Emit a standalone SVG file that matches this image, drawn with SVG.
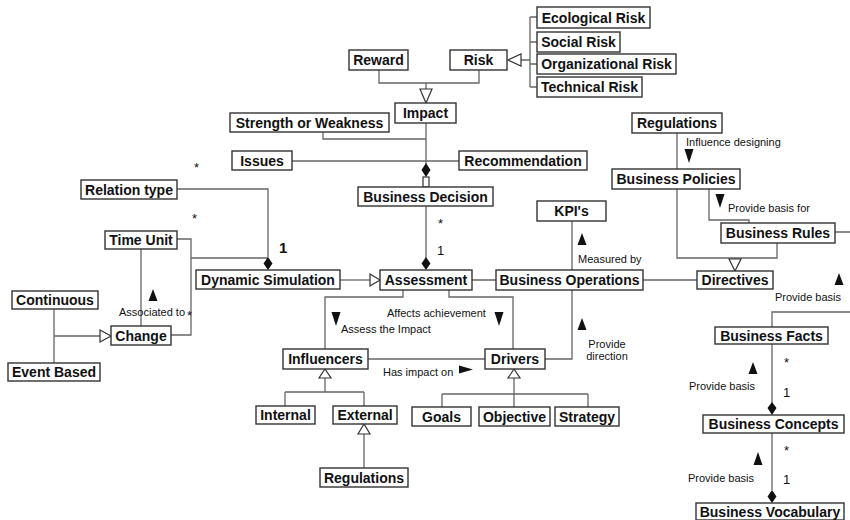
<svg xmlns="http://www.w3.org/2000/svg" width="850" height="520" viewBox="0 0 850 520">
<style>
.box{fill:#fff;stroke:#333;stroke-width:1.4}
.lbl{font-family:"Liberation Sans",Arial,sans-serif;font-weight:bold;font-size:14px;fill:#111;text-anchor:middle}
.sm{font-family:"Liberation Sans",Arial,sans-serif;font-size:11px;fill:#111}
.mult{font-family:"Liberation Sans",Arial,sans-serif;font-size:13px;fill:#111}
.ln{fill:none;stroke:#666;stroke-width:1.3}
.hol{fill:#fff;stroke:#333;stroke-width:1.2}
.fill{fill:#111;stroke:none}
</style>
<rect width="850" height="520" fill="#fff"/>
<g id="connectors">
<path class="ln" d="M521,60H530M530,17V87M530,17H537M530,42H537M530,64H537M530,87H537"/>
<polygon class="hol" points="508,60 521,54 521,66"/>
<path class="ln" d="M379,70V83H479V70M426,83V89"/>
<polygon class="hol" points="426,103 420,89 432,89"/>
<path class="ln" d="M426,123V164M323,132V139H426M292,161H459"/>
<polygon class="fill" points="426,163 430.5,170 426,177 421.5,170"/>
<rect class="hol" x="423" y="177" width="6" height="10"/>
<path class="ln" d="M177,189H268V257M177,239H191V335H171M191,258H268M141,249V326"/>
<polygon class="fill" points="268,257 272.5,263.5 268,270 263.5,263.5"/>
<path class="ln" d="M54,308V363M54,336H100"/>
<polygon class="hol" points="111,336 100,330 100,342"/>
<path class="ln" d="M340,280H370"/>
<polygon class="hol" points="380,280 370,274 370,286"/>
<path class="ln" d="M426,206V258"/>
<polygon class="fill" points="426,257 430.5,263.5 426,270 421.5,263.5"/>
<path class="ln" d="M472,280H496M572,221V270M572,290V359H545M643,280H697"/>
<path class="ln" d="M403,290V297H325V349M449,290V297H513V349M368,359H485"/>
<path class="ln" d="M325,378V392M285,392H364M285,392V406M364,392V406M364,434V468"/>
<polygon class="hol" points="325,369 319,378 331,378"/>
<polygon class="hol" points="364,424 358,434 370,434"/>
<path class="ln" d="M514,378V394M442,394H588M442,394V407M514,394V407M588,394V407"/>
<polygon class="hol" points="514,369 508,378 520,378"/>
<path class="ln" d="M677,133V169M677,189V258H777V243M709,189V220H749V223M835,232H850M735,258V260"/>
<polygon class="hol" points="735,271 729,259 741,259"/>
<path class="ln" d="M772,327V312H850M772,344V403M772,433V490"/>
<polygon class="fill" points="772,402 776.5,408 772,415 767.5,408"/>
<polygon class="fill" points="772,490 776.5,496.5 772,503 767.5,496.5"/>
<g id="direction-marks">
<polygon class="fill" points="148.5,301 153,289 157.5,301"/>
<polygon class="fill" points="577.5,245 582,233 586.5,245"/>
<polygon class="fill" points="577.5,330 582,318 586.5,330"/>
<polygon class="fill" points="331.5,312 340.5,312 336,326"/>
<polygon class="fill" points="494.5,312 503.5,312 499,326"/>
<polygon class="fill" points="459,365.5 473,369.5 459,373.5"/>
<polygon class="fill" points="684.5,149 693.5,149 689,163"/>
<polygon class="fill" points="715.5,194 724.5,194 720,208"/>
<polygon class="fill" points="834.5,285 839,273 843.5,285"/>
<polygon class="fill" points="748.5,374 753,362 757.5,374"/>
<polygon class="fill" points="753.5,465 758,452 762.5,465"/>
</g>
<g id="connector-labels">
<text class="sm" x="119" y="316">Associated to</text>
<text class="mult" x="187" y="320">*</text>
<text class="sm" x="578" y="263">Measured by</text>
<text class="sm" x="607" y="348" text-anchor="middle">Provide</text>
<text class="sm" x="607" y="360" text-anchor="middle">direction</text>
<text class="sm" x="341" y="333">Assess the Impact</text>
<text class="sm" x="387" y="317">Affects achievement</text>
<text class="sm" x="383" y="376">Has impact on</text>
<text class="sm" x="686" y="146">Influence designing</text>
<text class="sm" x="728" y="212">Provide basis for</text>
<text class="sm" x="775" y="301">Provide basis</text>
<text class="sm" x="689" y="390">Provide basis</text>
<text class="sm" x="688" y="482">Provide basis</text>
<text class="mult" x="194" y="172">*</text>
<text class="mult" x="192" y="223">*</text>
<text class="mult" x="438" y="228">*</text>
<text class="mult" x="437" y="255">1</text>
<text class="mult" x="279" y="253" style="font-size:15px;font-weight:bold">1</text>
<text class="mult" x="784" y="367">*</text>
<text class="mult" x="783" y="397">1</text>
<text class="mult" x="784" y="455">*</text>
<text class="mult" x="783" y="484">1</text>
</g>
</g>
<g id="n-ecological"><rect class="box" x="537" y="7" width="113" height="21"/><text class="lbl" x="593.5" y="22.5">Ecological Risk</text></g>
<g id="n-social"><rect class="box" x="537" y="32" width="83" height="20"/><text class="lbl" x="578.5" y="47">Social Risk</text></g>
<g id="n-organizational"><rect class="box" x="537" y="54" width="139" height="20"/><text class="lbl" x="606.5" y="69">Organizational Risk</text></g>
<g id="n-technical"><rect class="box" x="537" y="77" width="105" height="20"/><text class="lbl" x="589.5" y="92">Technical Risk</text></g>
<g id="n-reward"><rect class="box" x="349" y="50" width="59" height="20"/><text class="lbl" x="378.5" y="65">Reward</text></g>
<g id="n-risk"><rect class="box" x="450" y="50" width="57" height="20"/><text class="lbl" x="478.5" y="65">Risk</text></g>
<g id="n-impact"><rect class="box" x="395" y="103" width="61" height="20"/><text class="lbl" x="425.5" y="118">Impact</text></g>
<g id="n-strength"><rect class="box" x="230" y="113" width="159" height="19"/><text class="lbl" x="309.5" y="127.5">Strength or Weakness</text></g>
<g id="n-issues"><rect class="box" x="232" y="151" width="60" height="19"/><text class="lbl" x="262" y="165.5">Issues</text></g>
<g id="n-recommendation"><rect class="box" x="459" y="151" width="128" height="19"/><text class="lbl" x="523" y="165.5">Recommendation</text></g>
<g id="n-decision"><rect class="box" x="358" y="187" width="135" height="19"/><text class="lbl" x="425.5" y="201.5">Business Decision</text></g>
<g id="n-relation"><rect class="box" x="81" y="180" width="96" height="19"/><text class="lbl" x="129" y="194.5">Relation type</text></g>
<g id="n-timeunit"><rect class="box" x="105" y="231" width="72" height="18"/><text class="lbl" x="141" y="245">Time Unit</text></g>
<g id="n-dynsim"><rect class="box" x="196" y="270" width="144" height="19"/><text class="lbl" x="268" y="284.5">Dynamic Simulation</text></g>
<g id="n-assessment"><rect class="box" x="380" y="270" width="92" height="20"/><text class="lbl" x="426" y="285">Assessment</text></g>
<g id="n-operations"><rect class="box" x="496" y="270" width="147" height="20"/><text class="lbl" x="569.5" y="285">Business Operations</text></g>
<g id="n-kpi"><rect class="box" x="537" y="201" width="69" height="20"/><text class="lbl" x="571.5" y="216">KPI's</text></g>
<g id="n-directives"><rect class="box" x="697" y="271" width="76" height="18"/><text class="lbl" x="735" y="285">Directives</text></g>
<g id="n-continuous"><rect class="box" x="12" y="291" width="86" height="18"/><text class="lbl" x="55" y="305">Continuous</text></g>
<g id="n-change"><rect class="box" x="111" y="326" width="60" height="19"/><text class="lbl" x="141" y="340.5">Change</text></g>
<g id="n-eventbased"><rect class="box" x="8" y="363" width="92" height="18"/><text class="lbl" x="54" y="377">Event Based</text></g>
<g id="n-influencers"><rect class="box" x="283" y="349" width="85" height="20"/><text class="lbl" x="325.5" y="364">Influencers</text></g>
<g id="n-drivers"><rect class="box" x="485" y="349" width="60" height="20"/><text class="lbl" x="515" y="364">Drivers</text></g>
<g id="n-internal"><rect class="box" x="256" y="406" width="59" height="18"/><text class="lbl" x="285.5" y="420">Internal</text></g>
<g id="n-external"><rect class="box" x="333" y="406" width="64" height="18"/><text class="lbl" x="365" y="420">External</text></g>
<g id="n-regulations-bottom"><rect class="box" x="320" y="468" width="88" height="19"/><text class="lbl" x="364" y="482.5">Regulations</text></g>
<g id="n-goals"><rect class="box" x="412" y="407" width="59" height="19"/><text class="lbl" x="441.5" y="421.5">Goals</text></g>
<g id="n-objective"><rect class="box" x="479" y="407" width="71" height="19"/><text class="lbl" x="514.5" y="421.5">Objective</text></g>
<g id="n-strategy"><rect class="box" x="555" y="407" width="64" height="19"/><text class="lbl" x="587" y="421.5">Strategy</text></g>
<g id="n-regulations-top"><rect class="box" x="632" y="113" width="90" height="20"/><text class="lbl" x="677" y="128">Regulations</text></g>
<g id="n-policies"><rect class="box" x="612" y="169" width="128" height="20"/><text class="lbl" x="676" y="184">Business Policies</text></g>
<g id="n-rules"><rect class="box" x="721" y="223" width="114" height="20"/><text class="lbl" x="778" y="238">Business Rules</text></g>
<g id="n-facts"><rect class="box" x="715" y="327" width="113" height="17"/><text class="lbl" x="771.5" y="340.5">Business Facts</text></g>
<g id="n-concepts"><rect class="box" x="703" y="415" width="141" height="18"/><text class="lbl" x="773.5" y="429">Business Concepts</text></g>
<g id="n-vocabulary"><rect class="box" x="696" y="503" width="148" height="17"/><text class="lbl" x="770" y="516.5">Business Vocabulary</text></g>
</svg>
